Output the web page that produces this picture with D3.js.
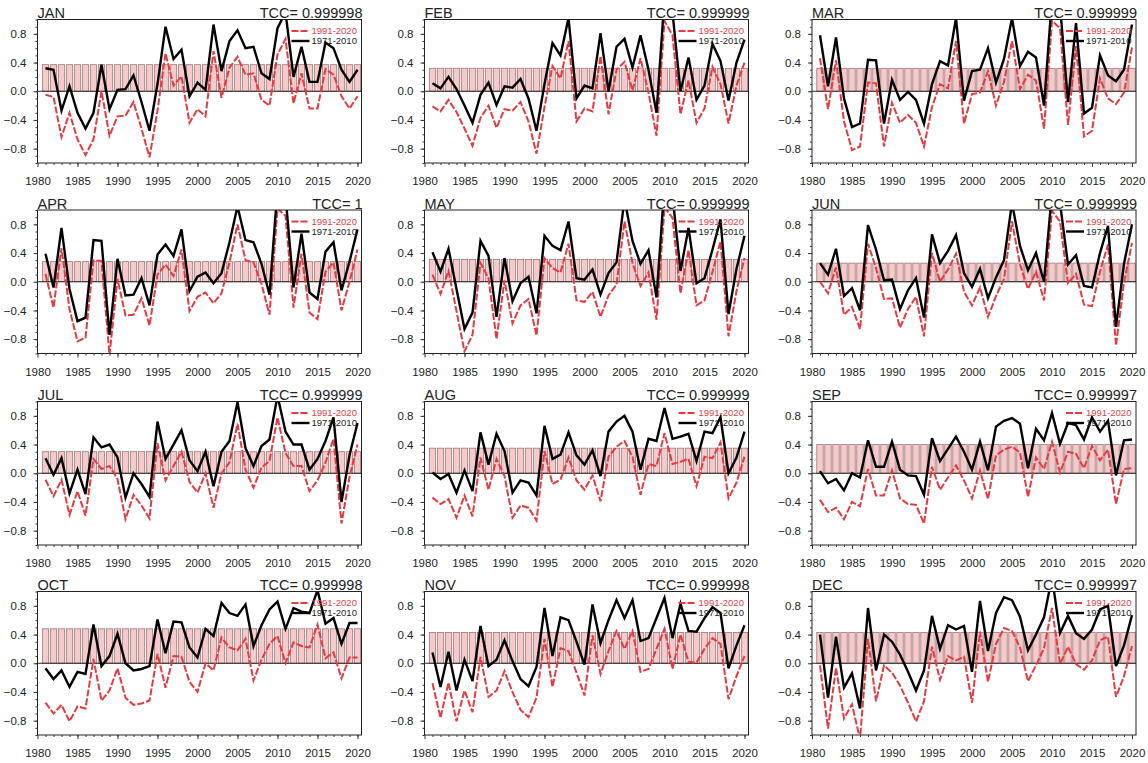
<!DOCTYPE html>
<html>
<head>
<meta charset="utf-8">
<script src="https://cdn.jsdelivr.net/npm/d3@7"></script>
<style>
  body { margin: 0; background: #fff; }
  text { font-family: Arial, "Liberation Sans", Helvetica, sans-serif; fill: #222; }
</style>
</head>
<body>
<div id="chart"></div>
<script>
// ---- data ----
const years = [1981,1982,1983,1984,1985,1986,1987,1988,1989,1990,1991,1992,1993,1994,1995,1996,1997,1998,1999,2000,
               2001,2002,2003,2004,2005,2006,2007,2008,2009,2010,2011,2012,2013,2014,2015,2016,2017,2018,2019,2020];
const months = ["JAN","FEB","MAR","APR","MAY","JUN","JUL","AUG","SEP","OCT","NOV","DEC"];
const tccLabels = ["0.999998","0.999999","0.999999","1","0.999999","0.999999",
                   "0.999999","0.999999","0.999997","0.999998","0.999998","0.999997"];
const barHeights = [0.37,0.32,0.32,0.28,0.31,0.26,0.30,0.35,0.40,0.48,0.43,0.43];
const xTicks = [1980,1985,1990,1995,2000,2005,2010,2015,2020];
const yTicks = [-0.8,-0.4,0,0.4,0.8];
const legendLabels = ["1991-2020","1971-2010"];

// 1971-2010 climatology (black) / 1991-2020 climatology (red dashed)
const jan71 = [0.32,0.30,-0.27,0.07,-0.30,-0.52,-0.30,0.37,-0.25,0.02,0.03,0.22,-0.15,-0.55,0.10,0.90,0.45,0.58,-0.07,0.12,0.02,0.93,0.28,0.70,0.85,0.60,0.62,0.25,0.17,0.88,1.10,0.20,0.62,0.13,0.13,0.68,0.60,0.30,0.13,0.30];
const jan91 = [-0.05,-0.08,-0.64,-0.30,-0.67,-0.89,-0.67,0.00,-0.62,-0.35,-0.34,-0.15,-0.52,-0.92,-0.27,0.53,0.08,0.21,-0.44,-0.25,-0.35,0.56,-0.09,0.33,0.48,0.23,0.25,-0.12,-0.20,0.51,0.73,-0.17,0.25,-0.24,-0.24,0.31,0.23,-0.07,-0.24,-0.07];
const feb71 = [0.11,0.04,0.20,0.03,-0.20,-0.44,-0.05,0.12,-0.19,0.07,0.05,0.17,-0.10,-0.55,0.10,0.67,0.50,1.02,-0.10,0.08,0.04,0.81,0.00,0.62,0.73,0.33,0.78,0.30,-0.30,1.30,1.10,0.00,0.47,-0.12,0.08,0.66,0.42,-0.13,0.40,0.72];
const feb91 = [-0.21,-0.28,-0.12,-0.29,-0.52,-0.76,-0.37,-0.20,-0.51,-0.25,-0.27,-0.15,-0.42,-0.87,-0.22,0.35,0.18,0.70,-0.42,-0.24,-0.28,0.49,-0.32,0.30,0.41,0.01,0.46,-0.02,-0.62,0.98,0.78,-0.32,0.15,-0.44,-0.24,0.34,0.10,-0.45,0.08,0.40];
const mar71 = [0.78,0.07,0.75,-0.10,-0.50,-0.45,0.44,0.43,-0.45,0.16,-0.12,-0.01,-0.12,-0.45,0.10,0.42,0.36,1.02,-0.13,0.28,0.30,0.60,0.12,0.45,1.02,0.35,0.55,0.47,-0.20,1.30,1.20,-0.15,0.95,-0.31,-0.23,0.50,0.22,0.14,0.30,0.93];
const mar91 = [0.46,-0.25,0.43,-0.42,-0.82,-0.77,0.12,0.11,-0.77,-0.16,-0.44,-0.33,-0.44,-0.77,-0.22,0.10,0.04,0.70,-0.45,-0.04,-0.02,0.28,-0.20,0.13,0.70,0.03,0.23,0.15,-0.52,0.98,0.88,-0.47,0.63,-0.63,-0.55,0.18,-0.10,-0.18,-0.02,0.61];
const apr71 = [0.39,-0.08,0.75,-0.10,-0.55,-0.50,0.58,0.57,-0.74,0.32,-0.19,-0.18,0.05,-0.33,0.38,0.52,0.36,0.73,-0.13,0.07,0.13,-0.02,0.12,0.55,1.05,0.58,0.55,0.25,-0.18,1.30,1.20,-0.08,0.67,-0.15,-0.24,0.42,0.55,-0.12,0.28,0.73];
const apr91 = [0.11,-0.36,0.47,-0.38,-0.83,-0.78,0.30,0.29,-1.02,0.04,-0.47,-0.46,-0.23,-0.61,0.10,0.24,0.08,0.45,-0.41,-0.21,-0.15,-0.30,-0.16,0.27,0.80,0.30,0.27,-0.03,-0.46,1.02,0.92,-0.36,0.39,-0.43,-0.52,0.14,0.27,-0.40,0.00,0.45];
const may71 = [0.41,0.14,0.46,-0.10,-0.66,-0.43,0.57,0.36,-0.49,0.33,-0.27,-0.02,0.07,-0.44,0.64,0.50,0.44,0.84,0.05,0.03,0.17,-0.18,0.12,0.27,1.15,0.57,0.25,0.44,-0.22,1.35,1.20,0.15,0.75,-0.02,0.05,0.45,0.87,-0.45,0.18,0.64];
const may91 = [0.10,-0.17,0.15,-0.41,-0.97,-0.74,0.26,0.05,-0.80,0.02,-0.58,-0.33,-0.24,-0.75,0.33,0.19,0.13,0.53,-0.26,-0.28,-0.14,-0.49,-0.19,-0.04,0.84,0.26,-0.06,0.13,-0.53,1.04,0.89,-0.16,0.44,-0.33,-0.26,0.14,0.56,-0.76,-0.13,0.33];
const jun71 = [0.26,0.10,0.46,-0.20,-0.09,-0.40,0.79,0.45,0.02,0.03,-0.38,-0.12,0.05,-0.50,0.66,0.26,0.43,0.65,0.12,-0.07,0.18,-0.23,0.06,0.30,1.10,0.50,0.16,0.40,0.00,1.25,1.10,0.24,0.37,-0.06,-0.08,0.40,0.78,-0.63,0.25,0.80];
const jun91 = [0.00,-0.16,0.20,-0.46,-0.35,-0.66,0.53,0.19,-0.24,-0.23,-0.64,-0.38,-0.21,-0.76,0.40,0.00,0.17,0.39,-0.14,-0.33,-0.08,-0.49,-0.20,0.04,0.84,0.24,-0.10,0.14,-0.26,0.99,0.84,-0.02,0.11,-0.32,-0.34,0.14,0.52,-0.89,-0.01,0.54];
const jul71 = [0.21,-0.02,0.21,-0.28,0.05,-0.29,0.50,0.36,0.40,0.22,-0.34,0.00,-0.15,-0.33,0.72,0.20,0.40,0.60,0.18,0.03,0.30,-0.18,0.30,0.45,0.99,0.35,0.10,0.38,0.47,1.08,0.58,0.40,0.40,0.05,0.20,0.45,0.78,-0.40,0.25,0.70];
const jul91 = [-0.09,-0.32,-0.09,-0.58,-0.25,-0.59,0.20,0.06,0.10,-0.08,-0.64,-0.30,-0.45,-0.63,0.42,-0.10,0.10,0.30,-0.12,-0.27,0.00,-0.48,0.00,0.15,0.69,0.05,-0.20,0.08,0.17,0.78,0.28,0.10,0.10,-0.25,-0.10,0.15,0.48,-0.70,-0.05,0.40];
const aug71 = [0.01,-0.08,-0.01,-0.27,0.04,-0.25,0.57,0.12,0.55,0.31,-0.27,-0.10,-0.13,-0.31,0.66,0.20,0.26,0.57,0.25,0.12,0.32,-0.04,0.58,0.72,0.80,0.58,0.05,0.48,0.45,0.91,0.48,0.51,0.55,0.17,0.58,0.56,0.78,0.00,0.22,0.58];
const aug91 = [-0.34,-0.43,-0.36,-0.62,-0.31,-0.60,0.22,-0.23,0.20,-0.04,-0.62,-0.45,-0.48,-0.66,0.31,-0.15,-0.09,0.22,-0.10,-0.23,-0.03,-0.39,0.23,0.37,0.45,0.23,-0.30,0.13,0.10,0.56,0.13,0.16,0.20,-0.18,0.23,0.21,0.43,-0.35,-0.13,0.23];
const sep71 = [0.03,-0.14,-0.08,-0.24,0.00,-0.06,0.46,0.09,0.09,0.44,0.05,-0.03,-0.04,-0.30,0.49,0.17,0.34,0.51,0.30,0.05,0.44,0.04,0.65,0.73,0.77,0.69,0.07,0.62,0.46,0.84,0.41,0.70,0.67,0.47,0.78,0.58,0.73,-0.03,0.46,0.47];
const sep91 = [-0.37,-0.54,-0.48,-0.64,-0.40,-0.46,0.06,-0.31,-0.31,0.04,-0.35,-0.43,-0.44,-0.70,0.09,-0.23,-0.06,0.11,-0.10,-0.35,0.04,-0.36,0.25,0.33,0.37,0.29,-0.33,0.22,0.06,0.44,0.01,0.30,0.27,0.07,0.38,0.18,0.33,-0.43,0.06,0.07];
const oct71 = [-0.07,-0.22,-0.10,-0.33,-0.12,-0.15,0.54,-0.04,0.10,0.41,0.00,-0.10,-0.08,-0.04,0.61,0.14,0.58,0.57,0.22,0.08,0.48,0.38,0.84,0.70,0.66,0.82,0.24,0.53,0.75,0.86,0.48,0.77,0.72,0.70,1.02,0.55,0.63,0.27,0.56,0.56];
const oct91 = [-0.55,-0.70,-0.58,-0.81,-0.60,-0.63,0.06,-0.52,-0.38,-0.07,-0.48,-0.58,-0.56,-0.52,0.13,-0.34,0.10,0.09,-0.26,-0.40,0.00,-0.10,0.36,0.22,0.18,0.34,-0.24,0.05,0.27,0.38,0.00,0.29,0.24,0.22,0.54,0.07,0.15,-0.21,0.08,0.08];
const nov71 = [0.15,-0.33,0.16,-0.38,0.05,-0.25,0.52,-0.04,0.05,0.32,0.03,-0.22,-0.32,-0.05,0.77,0.10,0.64,0.60,0.30,-0.02,0.82,0.28,0.60,0.88,0.63,0.88,0.31,0.35,0.63,0.91,0.35,0.83,0.45,0.44,0.63,0.78,0.70,-0.07,0.25,0.53];
const nov91 = [-0.28,-0.76,-0.27,-0.81,-0.38,-0.68,0.09,-0.47,-0.38,-0.11,-0.40,-0.65,-0.75,-0.48,0.34,-0.33,0.21,0.17,-0.13,-0.45,0.39,-0.15,0.17,0.45,0.20,0.45,-0.12,-0.08,0.20,0.48,-0.08,0.40,0.02,0.01,0.20,0.35,0.27,-0.50,-0.18,0.10];
const dec71 = [0.40,-0.48,0.37,-0.34,-0.14,-0.63,0.77,-0.10,0.40,0.30,0.12,-0.12,-0.38,-0.10,0.66,0.20,0.53,0.47,0.52,-0.12,0.87,0.17,0.70,0.92,0.88,0.65,0.18,0.40,0.64,1.20,0.42,0.66,0.42,0.34,0.47,0.75,0.80,-0.04,0.25,0.67];
const dec91 = [-0.03,-0.91,-0.06,-0.77,-0.57,-1.06,0.34,-0.53,-0.03,-0.13,-0.31,-0.55,-0.81,-0.53,0.23,-0.23,0.10,0.04,0.09,-0.55,0.44,-0.26,0.27,0.49,0.45,0.22,-0.25,-0.03,0.21,0.77,-0.01,0.23,-0.01,-0.09,0.04,0.32,0.37,-0.47,-0.18,0.24];

const series71 = [jan71,feb71,mar71,apr71,may71,jun71,jul71,aug71,sep71,oct71,nov71,dec71];
const series91 = [jan91,feb91,mar91,apr91,may91,jun91,jul91,aug91,sep91,oct91,nov91,dec91];

// ---- layout ----
const W = 1148, H = 763;
const colLeft = [37.5, 424.5, 812];
const rowTop = [19.5, 210, 401.5, 591.5];
const pw = 324, ph = 143.5;
const red = '#e53a40';

const svg = d3.select('#chart').append('svg')
	.attr('width', W)
	.attr('height', H);

const x = d3.scaleLinear().domain([1980, 2020.5]).range([0, pw]);
const y = d3.scaleLinear().domain([-1, 1]).range([ph, 0]);

months.forEach(function(m, i) {

	const g = svg.append('g')
		.attr('transform', `translate(${colLeft[i % 3]},${rowTop[Math.floor(i / 3)]})`);

	g.append('clipPath').attr('id', 'clip' + i)
		.append('rect').attr('width', pw).attr('height', ph);

	const plot = g.append('g').attr('clip-path', `url(#clip${i})`);

	// bars
	plot.selectAll('.bar')
		.data(years)
		.enter().append('rect')
		.attr('class', 'bar')
		.attr('x', d => x(d) - 3.2)
		.attr('width', 6.4)
		.attr('y', y(barHeights[i]))
		.attr('height', y(0) - y(barHeights[i]))
		.attr('fill', '#f6c9cb')
		.attr('stroke', '#8e6a6a')
		.attr('stroke-width', 0.7);

	plot.append('line')
		.attr('x1', 0).attr('x2', pw)
		.attr('y1', y(0)).attr('y2', y(0))
		.attr('stroke', '#111').attr('stroke-width', 0.9);

	// legend (under the lines, as in the figure)
	const leg = g.append('g').attr('transform', `translate(${pw - 70},0)`);
	legendLabels.forEach(function(lab, k) {
		const ly = 11.5 + k * 10;
		leg.append('line')
			.attr('x1', 0).attr('x2', 18)
			.attr('y1', ly).attr('y2', ly)
			.attr('stroke', k === 0 ? red : '#000')
			.attr('stroke-width', k === 0 ? 2 : 2.4)
			.attr('stroke-dasharray', k === 0 ? '7,2' : null);
		leg.append('text')
			.attr('x', 20).attr('y', ly)
			.attr('dy', '0.35em')
			.style('font-size', '9.5px')
			.style('fill', k === 0 ? '#d9454a' : '#222')
			.text(lab);
	});

	const line = d3.line()
		.x((d, j) => x(years[j]))
		.y(d => y(d));

	plot.append('path')
		.datum(series91[i])
		.attr('d', line)
		.attr('fill', 'none')
		.attr('stroke', red)
		.attr('stroke-width', 2)
		.attr('stroke-dasharray', '7,2');

	plot.append('path')
		.datum(series71[i])
		.attr('d', line)
		.attr('fill', 'none')
		.attr('stroke', '#000')
		.attr('stroke-width', 2.4)
		.attr('stroke-linejoin', 'miter');

	// frame
	g.append('rect')
		.attr('width', pw).attr('height', ph)
		.attr('fill', 'none')
		.attr('stroke', '#222').attr('stroke-width', 1);

	// axes
	const axisY = d3.axisLeft(y)
		.tickValues(yTicks)
		.tickFormat(d3.format('.1f'))
		.tickSize(4)
		.tickPadding(7);
	const yNode = g.append('g').attr('class', 'axis axis-y').call(axisY);
	yNode.select('.domain').remove();
	yNode.selectAll('text').style('font-size', '11.5px');

	const yMinor = g.append('g').call(d3.axisLeft(y)
		.tickValues(d3.range(-10, 11).map(v => v / 10))
		.tickSize(2).tickFormat(''));
	yMinor.select('.domain').remove();

	const axisX = d3.axisBottom(x)
		.tickValues(xTicks)
		.tickFormat(d => d)
		.tickSize(4)
		.tickPadding(10);
	const xNode = g.append('g').attr('class', 'axis axis-x')
		.attr('transform', `translate(0,${ph})`)
		.call(axisX);
	xNode.select('.domain').remove();
	xNode.selectAll('text').style('font-size', '11.5px');

	const xMinor = g.append('g')
		.attr('transform', `translate(0,${ph})`)
		.call(d3.axisBottom(x).tickValues(years).tickSize(2).tickFormat(''));
	xMinor.select('.domain').remove();

	g.selectAll('.tick line').attr('stroke', '#333');

	// titles
	g.append('text')
		.attr('x', 0).attr('y', -1.5)
		.style('font-size', '14.5px')
		.text(m);
	g.append('text')
		.attr('x', pw + 1).attr('y', -1.5)
		.attr('text-anchor', 'end')
		.style('font-size', '14.5px')
		.text('TCC= ' + tccLabels[i]);
});
</script>
</body>
</html>
